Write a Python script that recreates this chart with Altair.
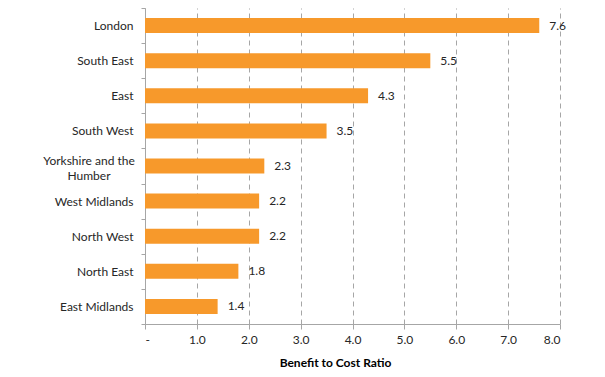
import altair as alt
import pandas as pd

regions = ["London", "South East", "East", "South West", "Yorkshire and the Humber",
           "West Midlands", "North West", "North East", "East Midlands"]
ratios = [7.6, 5.5, 4.3, 3.5, 2.3, 2.2, 2.2, 1.8, 1.4]
x_ticks = [0, 1, 2, 3, 4, 5, 6, 7, 8]
wrapped = {"Yorkshire and the Humber": ["Yorkshire and the", "Humber"]}

df = pd.DataFrame({"region": regions, "ratio": ratios})
df_wrap = pd.DataFrame({"region": list(wrapped.keys()),
                        "lines": list(wrapped.values())})

FONT = "Lato"
TXT = "#262626"
GRID = "#A6A6A6"

y_enc = alt.Y("region:N", sort=regions, title=None,
              scale=alt.Scale(paddingInner=0, paddingOuter=0),
              axis=alt.Axis(tickBand="extent", tickSize=4, labelPadding=8,
                            domainColor=GRID, tickColor=GRID, labelColor=TXT,
                            labelFont=FONT, labelFontSize=12, labelLimit=200,
                            labelExpr="datum.label == 'Yorkshire and the Humber' ? '' : datum.label"))

x_enc = alt.X("ratio:Q", title="Benefit to Cost Ratio",
              scale=alt.Scale(domain=[0, 8], nice=False),
              axis=alt.Axis(values=x_ticks, grid=True, gridDash=[5, 4], gridColor=GRID,
                            gridWidth=1, domainColor=GRID, tickColor=GRID, tickSize=5,
                            labelColor=TXT, labelFont=FONT, labelFontSize=12, labelPadding=5,
                            labelExpr="datum.value == 0 ? '-' : format(datum.value, '.1f')",
                            titleFont=FONT, titleFontSize=12, titleFontWeight="bold",
                            titleColor="#000000", titlePadding=12, titleX=190))

bars = alt.Chart(df).mark_bar(color="#F7992B", size=15).encode(x=x_enc, y=y_enc)
labels = alt.Chart(df).mark_text(align="left", dx=10, font=FONT, fontSize=12, color=TXT).encode(
    x="ratio:Q", y=alt.Y("region:N", sort=regions), text=alt.Text("ratio:Q", format=".1f"))
wrap_label = alt.Chart(df_wrap).mark_text(align="center", baseline="middle", font=FONT,
                                          fontSize=12, color=TXT, lineHeight=15, dy=-5).encode(
    x=alt.value(-56), y=alt.Y("region:N", sort=regions), text="lines")

chart = (bars + labels + wrap_label).properties(
    width=415, height=316,
    autosize=alt.AutoSizeParams(type="none"),
    padding={"left": 137, "top": 0, "right": 30, "bottom": 45},
).configure_view(stroke=None)

chart.save("out.html", embed_options={"renderer": "svg", "actions": False})
